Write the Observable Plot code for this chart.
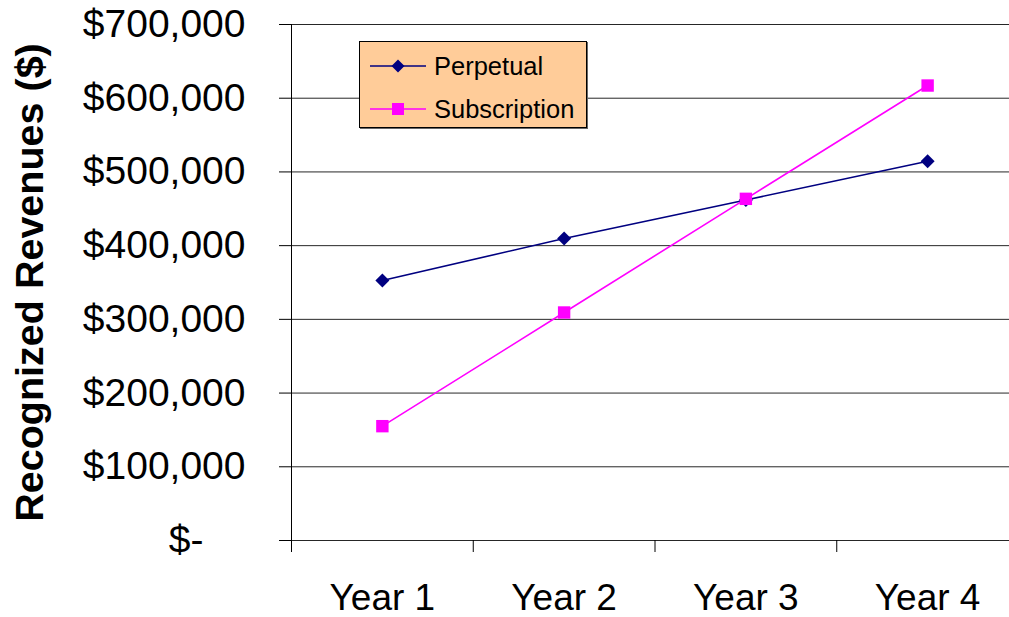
<!DOCTYPE html>
<html>
<head>
<meta charset="utf-8">
<script src="https://cdn.jsdelivr.net/npm/d3@7"></script>
<script src="https://cdn.jsdelivr.net/npm/@observablehq/plot@0.6"></script>
<style>
  html, body { margin: 0; padding: 0; background: #fff; }
  #wrap { position: relative; width: 1009px; height: 617px; overflow: hidden; font-family: "Liberation Sans", Arial, sans-serif; }
  #legend { position: absolute; left: 359px; top: 41px; width: 228px; height: 87px; box-sizing: border-box;
            background: #FFCC99; border: 1px solid #000; box-shadow: 1px 1px 0 #666; }
  .row { position: absolute; left: 0; height: 30px; display: flex; align-items: center; }
  .row svg { margin-left: 10px; }
  .row span { margin-left: 8px; font-size: 25.5px; color: #000; }
</style>
</head>
<body>
<div id="wrap">
  <div id="chart"></div>
  <div id="legend"></div>
</div>
<script>
const years = ["Year 1", "Year 2", "Year 3", "Year 4"];
const seriesNames = ["Perpetual", "Subscription"];
const perpetual = [352700, 409700, 462000, 514600];
const subscription = [155100, 309300, 463500, 617200];
const yTicks = [0, 100000, 200000, 300000, 400000, 500000, 600000, 700000];
const colors = ["#000080", "#FF00FF"];
const symbols = ["diamond2", "square"];

const data = years.flatMap((yr, i) => [
  {x: i + 1, year: yr, series: seriesNames[0], value: perpetual[i]},
  {x: i + 1, year: yr, series: seriesNames[1], value: subscription[i]}
]);
const perp = data.filter(d => d.series === seriesNames[0]);
const subs = data.filter(d => d.series === seriesNames[1]);
const bandEdges = years.map((_, i) => i + 0.5);
const centers = years.map((_, i) => i + 1);
const fmt = d3.format(",");

const chart = Plot.plot({
  width: 1009,
  height: 617,
  marginLeft: 291,
  marginRight: -9,
  marginTop: 24,
  marginBottom: 77,
  x: {domain: [0.5, 4.5], label: null},
  y: {domain: [0, 700000], label: null},
  style: {fontFamily: "'Liberation Sans', Arial, sans-serif", background: "white", color: "#000"},
  marks: [
    Plot.ruleY(yTicks, {stroke: "#000", strokeWidth: 1, strokeOpacity: 0.85}),
    Plot.ruleX([0.5], {y1: 0, y2: 700000, stroke: "#000", strokeWidth: 1}),
    Plot.axisY(yTicks.filter(d => d > 0), {tickSize: 12, tickPadding: 34, fontSize: 39, label: null,
      tickFormat: d => "$" + fmt(d)}),
    Plot.axisY([0], {tickSize: 12, tickPadding: 76, fontSize: 39, label: null, tickFormat: () => "$-"}),
    Plot.axisX(bandEdges, {tickSize: 12, tickFormat: () => "", label: null}),
    Plot.axisX(centers, {tickSize: 0, tickPadding: 43, fontSize: 37, label: null, tickFormat: d => years[d - 1]}),
    Plot.line(perp, {x: "x", y: "value", stroke: colors[0], strokeWidth: 1.6}),
    Plot.line(subs, {x: "x", y: "value", stroke: colors[1], strokeWidth: 1.6}),
    Plot.dot(perp, {x: "x", y: "value", symbol: symbols[0], r: 6.3, fill: colors[0], stroke: "none"}),
    Plot.dot(subs, {x: "x", y: "value", symbol: symbols[1], r: 7, fill: colors[1], stroke: "none"}),
    Plot.text(["Recognized Revenues ($)"], {frameAnchor: "left", textAnchor: "middle", dx: -261, rotate: -90,
      fontSize: 39.5, fontWeight: "bold", fill: "#000"})
  ]
});
document.getElementById("chart").appendChild(chart);

// legend
const legend = document.getElementById("legend");
const rowTops = [9, 52];
seriesNames.forEach((name, i) => {
  const row = document.createElement("div");
  row.className = "row";
  row.style.top = rowTops[i] + "px";
  const shape = i === 0
    ? `<path d="M28,0.5 L34.5,7 L28,13.5 L21.5,7 Z" fill="${colors[i]}"/>`
    : `<rect x="22" y="1" width="12" height="12" fill="${colors[i]}"/>`;
  row.innerHTML = `<svg width="56" height="14" viewBox="0 0 56 14"><line x1="0" y1="7" x2="56" y2="7" stroke="${colors[i]}" stroke-width="1.6"/>${shape}</svg><span>${name}</span>`;
  legend.appendChild(row);
});
</script>
</body>
</html>
